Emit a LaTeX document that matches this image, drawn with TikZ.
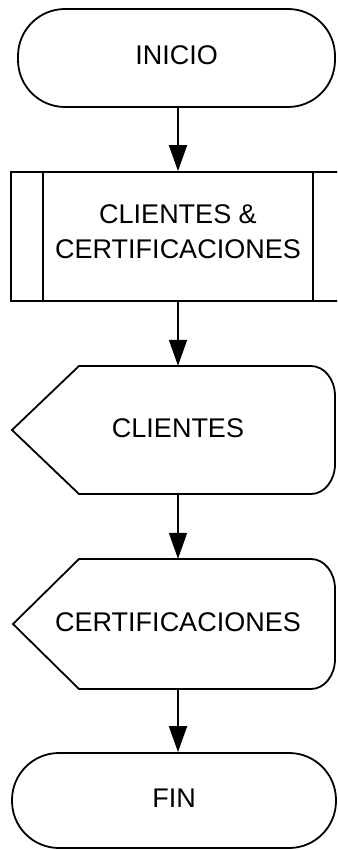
\documentclass[tikz,border=0pt]{standalone}
\usepackage{fontspec}
\setmainfont{Liberation Sans}
\usetikzlibrary{arrows.meta}

\tikzset{
	forma/.style={draw, line width=1.8pt},
	texto/.style={font=\fontsize{27}{35}\selectfont, align=center, execute at begin node=\strut},
	terminal/.style={forma, texto, rectangle, rounded corners=47pt},
	flecha/.style={line width=1.8pt, -{Triangle[length=26pt,width=18pt]}}
}

\begin{document}
\begin{tikzpicture}[x=1pt, y=-1pt]
	\useasboundingbox (0,0) rectangle (337,850);
	\clip (0,0) rectangle (337,850);
	\node [terminal, minimum width=317pt, minimum height=98pt] (inicio) at (176.5,58) {INICIO};
	\node [forma, texto, minimum width=334pt, minimum height=129pt] (sub) at (178,236.5) {CLIENTES \&\\CERTIFICACIONES\strut};
	\node [texto, minimum width=323pt, minimum height=128pt] (cli) at (178,430) {CLIENTES};
	\node [texto, minimum width=323pt, minimum height=130pt] (cer) at (178,624) {CERTIFICACIONES};
	\node [terminal, minimum width=324pt, minimum height=95pt] (fin) at (174,800.5) {FIN};
	\draw [forma] ([xshift=33pt]sub.north west) -- ([xshift=33pt]sub.south west);
	\draw [forma] ([xshift=-33pt]sub.north east) -- ([xshift=-33pt]sub.south east);
	\draw [forma] (12,430) -- (79,366) -- (311,366) .. controls (324,366) and (335,379) .. (335,396) -- (335,464) .. controls (335,481) and (324,494) .. (311,494) -- (79,494) -- cycle;
	\draw [forma] (13,624) -- (79,559) -- (311,559) .. controls (324,559) and (335,572) .. (335,589) -- (335,659) .. controls (335,676) and (324,689) .. (311,689) -- (79,689) -- cycle;
	\draw [flecha] (inicio.south -| sub.north) -- (sub.north);
	\draw [flecha] (sub.south) -- (cli.north);
	\draw [flecha] (cli.south) -- (cer.north);
	\draw [flecha] (cer.south) -- (cer.south |- fin.north);
\end{tikzpicture}
\end{document}
